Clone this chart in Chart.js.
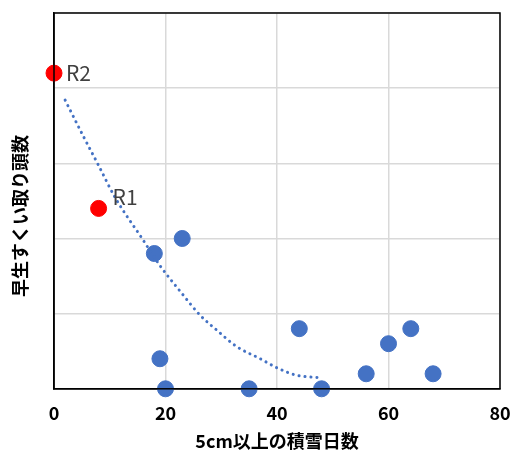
<!DOCTYPE html>
<html>
<head>
<meta charset="utf-8">
<script src="https://cdn.jsdelivr.net/npm/chart.js@4/dist/chart.umd.min.js"></script>
<style>
    html, body { margin: 0; padding: 0; background: #fff; }
    #grafica { display: block; }
</style>
</head>
<body>
<canvas id="grafica" width="510" height="453"></canvas>
<script>
// 5cm以上の積雪日数 と 早生すくい取り頭数
const diasNieve = [18, 23, 19, 20, 35, 44, 48, 56, 60, 64, 68];
const conteo = [9, 10, 2, 0, 0, 4, 0, 1, 3, 4, 1];

const rojoNombres = ['R1', 'R2'];
const rojoX = [8, 0];
const rojoY = [12, 21];

// linea de tendencia
const tendX = [2, 5.4, 7.8, 11, 15.8, 19, 22.6, 26.2, 29.2, 32.8, 37, 40, 43.5, 47.4];
const tendY = [19.2, 16.7, 15, 12.7, 10, 8.2, 6.5, 4.9, 3.9, 2.8, 2, 1.4, 0.9, 0.75];

const xTicks = [0, 20, 40, 60, 80];
const yMax = 25;
const yPaso = 5;

const fuente = "'Noto Sans CJK JP', 'Noto Sans', sans-serif";

(function() {
    const ctx = document.getElementById('grafica').getContext('2d');

    const extras = {
        id: 'extras',
        afterDatasetsDraw(chart) {
            const c = chart.ctx;
            const area = chart.chartArea;
            // marco del area
            c.save();
            c.strokeStyle = '#000';
            c.lineWidth = 1.5;
            c.strokeRect(area.left, area.top, area.right - area.left, area.bottom - area.top);
            c.restore();

            // etiquetas R1 / R2
            const meta = chart.getDatasetMeta(2);
            const desp = [[14, -11], [12, 0]];
            c.save();
            c.font = "21px " + fuente;
            c.fillStyle = '#404040';
            c.textBaseline = 'middle';
            c.textAlign = 'left';
            meta.data.forEach((p, i) => {
                c.fillText(rojoNombres[i], p.x + desp[i][0], p.y + desp[i][1]);
            });
            c.restore();

            // titulo eje y
            c.save();
            c.translate(20, 216);
            c.rotate(-Math.PI / 2);
            c.font = "bold 18px " + fuente;
            c.fillStyle = '#000';
            c.textAlign = 'center';
            c.textBaseline = 'middle';
            c.fillText('早生すくい取り頭数', 0, 0);
            c.restore();
        }
    };

    new Chart(ctx, {
        type: 'scatter',
        data: {
            datasets: [{
                type: 'line',
                data: tendX.map((x, i) => ({ x: x, y: tendY[i] })),
                borderColor: '#4472C4',
                borderWidth: 3,
                borderDash: [0.1, 5.9],
                borderCapStyle: 'round',
                pointRadius: 0,
                fill: false,
                cubicInterpolationMode: 'monotone',
                clip: false,
                order: 0
            }, {
                data: diasNieve.map((x, i) => ({ x: x, y: conteo[i] })),
                backgroundColor: '#4472C4',
                borderColor: '#4472C4',
                pointRadius: 8,
                pointHoverRadius: 8,
                clip: false,
                order: 1
            }, {
                data: rojoX.map((x, i) => ({ x: x, y: rojoY[i] })),
                backgroundColor: '#FF0000',
                borderColor: '#FF0000',
                pointRadius: 8,
                pointHoverRadius: 8,
                clip: false,
                order: 1
            }]
        },
        options: {
            responsive: false,
            animation: false,
            layout: {
                padding: { left: 54, top: 13, right: 0, bottom: 0 }
            },
            scales: {
                x: {
                    type: 'linear',
                    min: 0,
                    max: 80,
                    afterBuildTicks: (scale) => {
                        scale.ticks = xTicks.map(v => ({ value: v }));
                    },
                    afterFit: (scale) => {
                        scale.paddingRight = 10;
                        scale.paddingLeft = 5;
                    },
                    grid: {
                        color: '#D9D9D9',
                        lineWidth: 1.5,
                        drawTicks: false
                    },
                    border: { color: '#000', width: 1.5 },
                    ticks: {
                        color: '#000',
                        font: { family: fuente, size: 18, weight: 'bold' },
                        padding: 14,
                        maxRotation: 0
                    },
                    title: {
                        display: true,
                        text: '5cm以上の積雪日数',
                        color: '#000',
                        font: { family: fuente, size: 18, weight: 'bold' },
                        padding: { top: -8, bottom: 1 }
                    }
                },
                y: {
                    min: 0,
                    max: yMax,
                    ticks: { display: false, stepSize: yPaso },
                    grid: {
                        color: '#D9D9D9',
                        lineWidth: 1.5,
                        drawTicks: false
                    },
                    border: { color: '#000', width: 1.5 }
                }
            },
            plugins: {
                legend: { display: false },
                tooltip: { enabled: false }
            }
        },
        plugins: [extras]
    });
})();
</script>
</body>
</html>
